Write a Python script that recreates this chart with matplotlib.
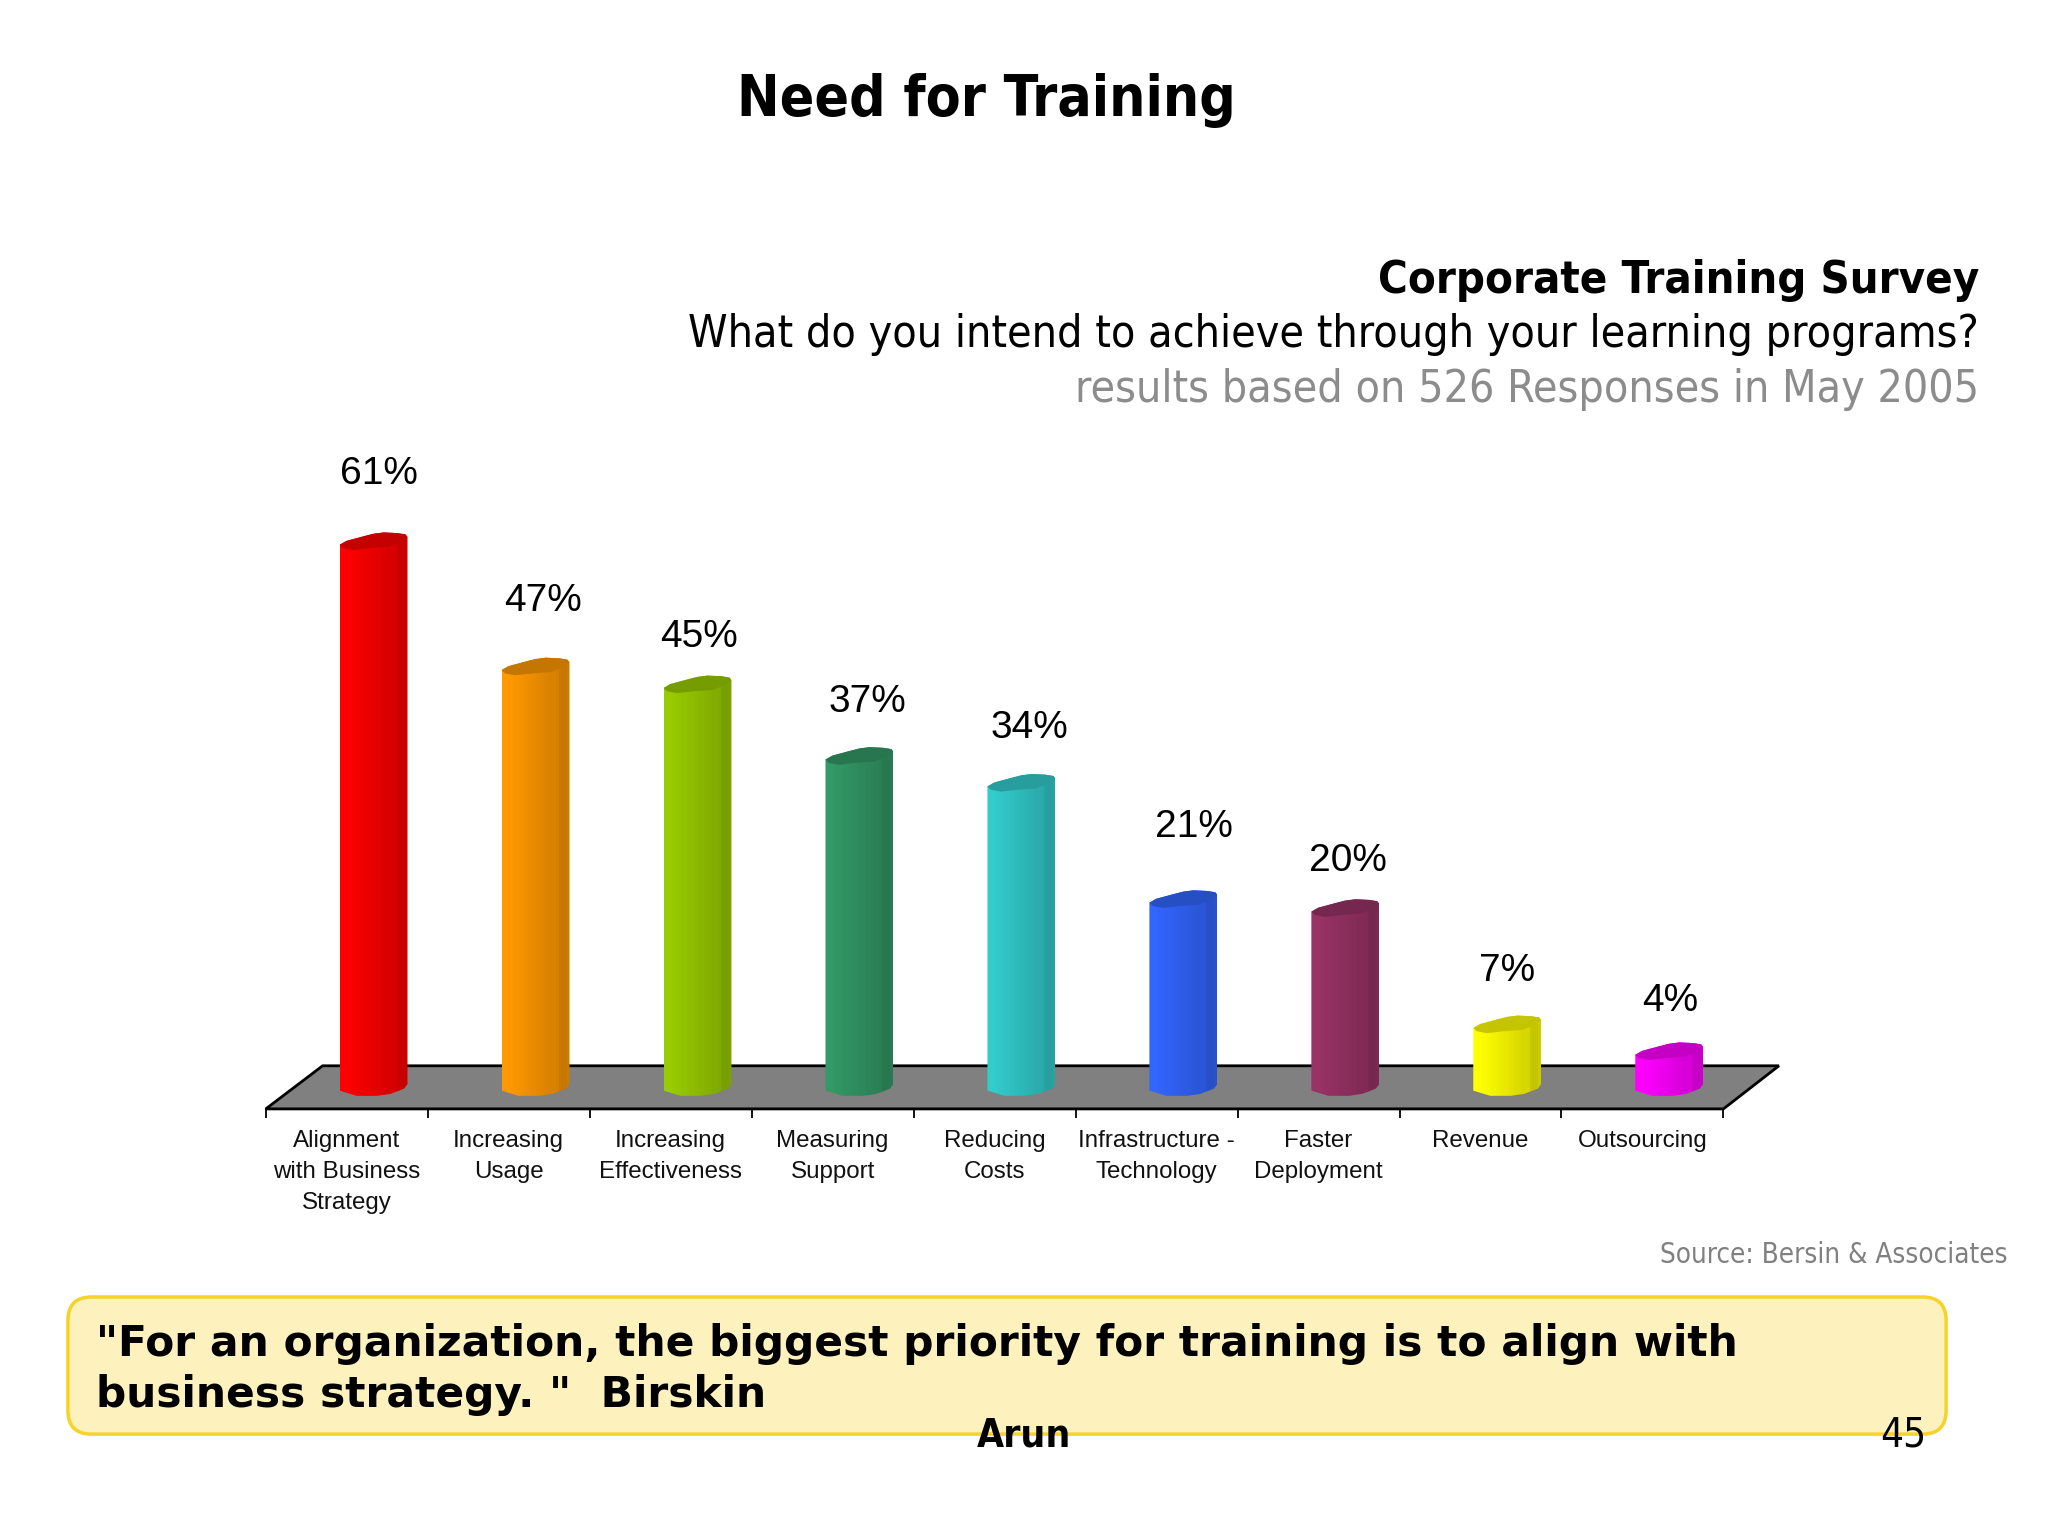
import matplotlib
matplotlib.use("Agg")
import matplotlib.pyplot as plt
import numpy as np
from matplotlib.colors import to_rgb
from matplotlib.patches import FancyBboxPatch, Polygon

categories = ["Alignment\nwith Business\nStrategy", "Increasing\nUsage", "Increasing\nEffectiveness",
              "Measuring\nSupport", "Reducing\nCosts", "Infrastructure -\nTechnology",
              "Faster\nDeployment", "Revenue", "Outsourcing"]
values = [61, 47, 45, 37, 34, 21, 20, 7, 4]
colors = ["#ff0000", "#ff9900", "#99cc00", "#339966", "#33cccc", "#3366ff", "#993366", "#ffff00", "#ff00ff"]
# hand placed labels, they do not sit at a constant distance from the bars
label_dx = [4, 6, 1, 6, 6, 8, 2, 0, 1]
label_dy = [54, 53, 39, 44, 45, 58, 39, 44, 41]

# the picture was measured at 1568 wide, so keep that as working unit
S = 2048 / 1568
W, H = 1568, 1176
PCT = 6.85   # working px per percent
BASE_Y = 835
STEP = 124
AX_LEFT, AX_RIGHT, AX_BOTTOM, AX_TOP = 203.5, 1319.5, 849, 349
BAR_W = 52 / STEP
BAR_LEFT = (260 - AX_LEFT) / STEP

# cylinder shading from left to right, stripes toward the dark side
shade = [1.0, 1.0, 1.0, 0.99, 0.98, 0.97, 0.96, 0.95, 0.94, 0.93, 0.92, 0.91, 0.9, 0.89,
         0.88, 0.87, 0.86, 0.85, 0.85, 0.84, 0.79, 0.78, 0.78, 0.8]
# outline of the top and bottom caps, (fraction of width, working px below the edge)
top_back = [(0, 0), (0.1, -3), (0.35, -6.5), (0.5, -8.5), (0.65, -9.5), (0.85, -9), (0.97, -8), (1, -6)]
top_front = [(1, -6), (0.9, -2), (0.72, 1.5), (0.45, 2.5), (0.2, 4), (0.05, 2.5), (0, 0)]
bottom = [(0, 0), (0.25, 4), (0.55, 4), (0.75, 2.5), (0.95, -1.5), (1, -5)]

fig = plt.figure(figsize=(20.48, 15.36), dpi=100, facecolor="white")

bg = fig.add_axes([0, 0, 1, 1])
bg.set_xlim(0, W)
bg.set_ylim(H, 0)
bg.axis("off")

HEAD = "DejaVu Sans"
bg.text(755, 77, "Need for Training", ha="center", va="center", family=HEAD, stretch="condensed",
        weight="bold", fontsize=40.9, color="black")
bg.text(1515, 215, "Corporate Training Survey", ha="right", va="center", family=HEAD, stretch="condensed",
        weight="bold", fontsize=32.6, color="black")
bg.text(1515, 256, "What do you intend to achieve through your learning programs?", ha="right",
        va="center", family=HEAD, stretch="condensed", fontsize=32, color="black")
bg.text(1515, 298, "results based on 526 Responses in May 2005", ha="right", va="center",
        family=HEAD, stretch="condensed", fontsize=32, color="#8c8c8c")
bg.text(1537, 961, "Source: Bersin & Associates", ha="right", va="center", family=HEAD, stretch="condensed",
        fontsize=19.9, color="#808080")

floor = Polygon([(AX_LEFT, AX_BOTTOM), (AX_RIGHT, AX_BOTTOM), (1362, 816), (247, 816)],
                closed=True, facecolor="#808080", edgecolor="black", linewidth=2)
bg.add_patch(floor)

box = FancyBboxPatch((52, 993), 1438, 105, boxstyle="round,pad=0,rounding_size=18",
                     facecolor="#fdf1bd", edgecolor="#f5d327", linewidth=2.5)
bg.add_patch(box)
bg.text(73.5, 1029, "\"For an organization, the biggest priority for training is to align with",
        ha="left", va="center", family="DejaVu Sans", weight="bold", fontsize=30.55, color="black")
bg.text(73.5, 1068, "business strategy. \"  Birskin", ha="left", va="center", family="DejaVu Sans",
        weight="bold", fontsize=30.55, color="black")
bg.text(784, 1099, "Arun", ha="center", va="center", family=HEAD, stretch="condensed", weight="bold",
        fontsize=28, color="black")
bg.text(1457, 1099, "45", ha="center", va="center", family=HEAD, stretch="condensed", fontsize=29, color="black")

ax = fig.add_axes([AX_LEFT / W, 1 - AX_BOTTOM / H, (AX_RIGHT - AX_LEFT) / W, (AX_BOTTOM - AX_TOP) / H])
ax.patch.set_alpha(0)
for name in ["top", "left", "right"]:
    ax.spines[name].set_visible(False)
ax.spines["bottom"].set_linewidth(1.5)
ax.yaxis.set_visible(False)


def cap_points(pts, x0, level):
    return [(x0 + f * BAR_W, level - dy / PCT) for f, dy in pts]


for i, (value, color) in enumerate(zip(values, colors)):
    x0 = i + BAR_LEFT
    rgb = np.array(to_rgb(color))
    body = cap_points(top_back, x0, value) + cap_points(bottom[::-1], x0, 0)
    clip = Polygon(body, closed=True, transform=ax.transData, facecolor="none", edgecolor="none")
    ax.add_patch(clip)
    strip = np.array([[rgb * s for s in shade]])
    im = ax.imshow(strip, extent=(x0, x0 + BAR_W, -2, value + 2), aspect="auto",
                   interpolation="nearest", zorder=2)
    im.set_clip_path(clip)
    lid = Polygon(cap_points(top_back, x0, value) + cap_points(top_front, x0, value), closed=True,
                  facecolor=rgb * 0.77, edgecolor="none", zorder=3)
    ax.add_patch(lid)
    ax.annotate(f"{value}%", xy=(x0 + BAR_W / 2, value),
                xytext=(label_dx[i] * S, label_dy[i] * S), textcoords="offset pixels",
                ha="center", va="center", family="Liberation Sans", fontsize=28, color="black",
                annotation_clip=False)

ax.set_xlim(0, len(values))
ax.set_ylim((BASE_Y - AX_BOTTOM) / PCT, (BASE_Y - AX_TOP) / PCT)
ax.set_xticks(np.arange(len(values) + 1))
ax.set_xticklabels([])
ax.tick_params(axis="x", which="major", length=6.5, width=1.3, color="black", direction="out")
ax.set_xticks(np.arange(len(values)) + 0.5, minor=True)
ax.set_xticklabels(categories, minor=True, family="Liberation Sans", fontsize=17.4,
                   linespacing=1.52, color="#111111")
ax.tick_params(axis="x", which="minor", length=0, pad=15.5)

fig.savefig("out.png", dpi=100)
